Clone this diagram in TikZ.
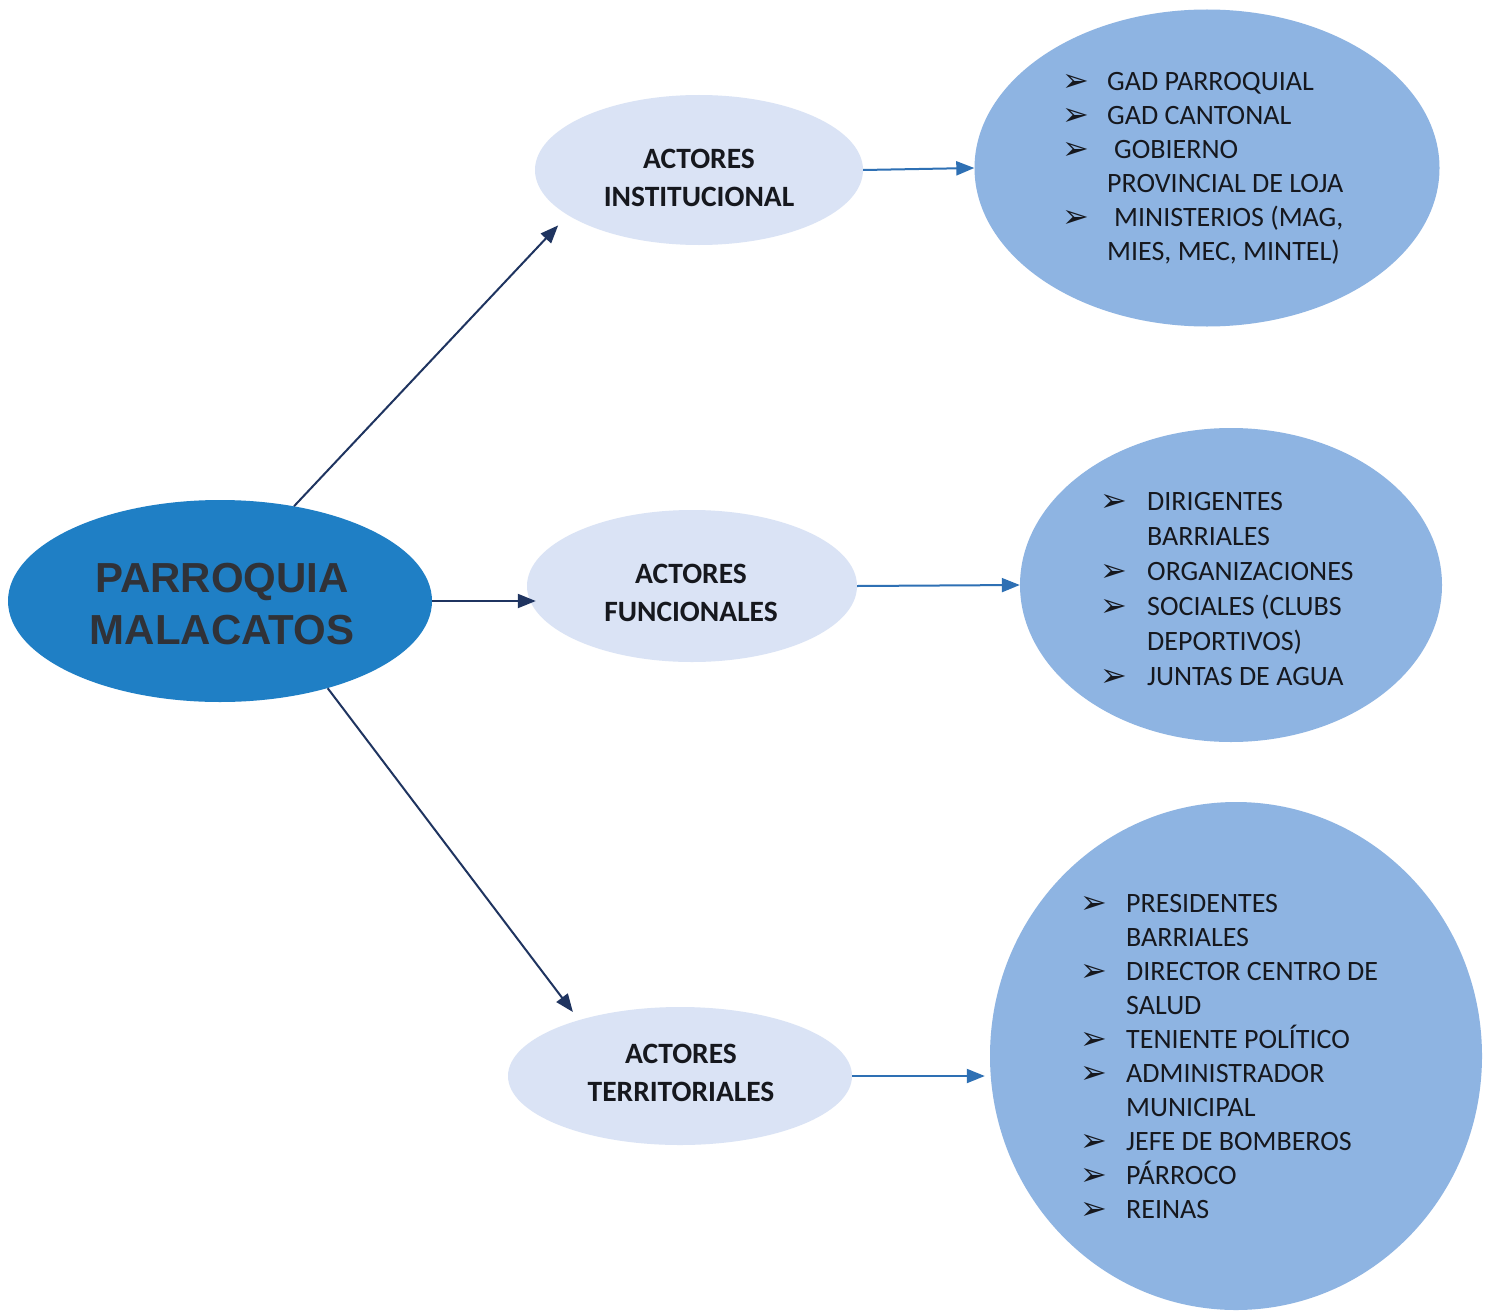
\documentclass[tikz,border=0pt]{standalone}
\usepackage{fontspec}
\setmainfont{Carlito}
\newfontfamily\titlefont{Liberation Sans}
\newfontfamily\bulletfont{DejaVu Sans}
\usetikzlibrary{shapes.geometric,arrows.meta}
\definecolor{centralblue}{RGB}{31,127,197}
\definecolor{paleblue}{RGB}{218,227,245}
\definecolor{listblue}{RGB}{142,180,226}
\definecolor{navyline}{RGB}{31,52,96}
\definecolor{arrowblue}{RGB}{46,112,180}
\definecolor{textdark}{RGB}{22,24,30}
\definecolor{titlegray}{RGB}{48,50,56}
\newcommand{\bul}{{\bulletfont\fontsize{32}{32}\selectfont\raisebox{-1pt}{➢}}}
\tikzset{
  oval/.style={ellipse, inner sep=0pt, draw=none},
  centraloval/.style={oval, fill=centralblue},
  actoroval/.style={oval, fill=paleblue},
  listoval/.style={oval, fill=listblue},
  actortext/.style={align=center, text=textdark, inner sep=0pt,
    font=\fontsize{29.5}{38}\selectfont\bfseries},
  titletext/.style={align=center, text=titlegray, inner sep=0pt,
    font=\titlefont\fontsize{42}{52}\selectfont\bfseries},
  listtext/.style={anchor=base west, inner sep=0pt, text=textdark},
  navyarrow/.style={draw=navyline, line width=2pt,
    -{Triangle[length=18pt,width=14pt]}},
  bluearrow/.style={draw=arrowblue, line width=2pt,
    -{Triangle[length=18pt,width=14pt]}}
}
\begin{document}
\begin{tikzpicture}[x=1pt,y=-1pt]
\fill[white] (0,0) rectangle (1493,1311);
\useasboundingbox (0,0) rectangle (1493,1311);

% central
\node[centraloval, minimum width=424pt, minimum height=202pt] (par) at (220,601) {};
\node[titletext] (partext) at (222,604) {PARROQUIA\\MALACATOS};

% actors
\node[actoroval, minimum width=328pt, minimum height=150pt] (inst) at (699,170) {};
\node[actortext] (insttext) at (699,177.5) {ACTORES\\INSTITUCIONAL};
\node[actoroval, minimum width=330pt, minimum height=152pt] (func) at (692,586) {};
\node[actortext] (functext) at (691,592.5) {ACTORES\\FUNCIONALES};
\node[actoroval, minimum width=344pt, minimum height=138pt] (terr) at (680,1076) {};
\node[actortext] (terrtext) at (681,1073) {ACTORES\\TERRITORIALES};

% list ovals
\node[listoval, minimum width=465pt, minimum height=317pt] (rt1) at (1207,168) {};
\node[listoval, minimum width=422pt, minimum height=314pt] (rt2) at (1231,585) {};
\node[listoval, minimum width=492pt, minimum height=508pt] (rt3) at (1236,1056) {};

% lists
\node[listtext] (list1) at (1062,91) {\fontsize{28}{34}\selectfont
\begin{tabular}[t]{@{}p{45pt}@{}l@{}}
\bul & GAD PARROQUIAL\\
\bul & GAD CANTONAL\\
\bul & \hspace{7pt}GOBIERNO\\
     & PROVINCIAL DE LOJA\\
\bul & \hspace{7pt}MINISTERIOS (MAG,\\
     & MIES, MEC, MINTEL)
\end{tabular}};

\node[listtext] (list2) at (1100,510) {\fontsize{28}{35}\selectfont
\begin{tabular}[t]{@{}p{47pt}@{}l@{}}
\bul & DIRIGENTES\\
     & BARRIALES\\
\bul & ORGANIZACIONES\\
\bul & SOCIALES (CLUBS\\
     & DEPORTIVOS)\\
\bul & JUNTAS DE AGUA
\end{tabular}};

\node[listtext] (list3) at (1080,912) {\fontsize{28}{34}\selectfont
\begin{tabular}[t]{@{}p{46pt}@{}l@{}}
\bul & PRESIDENTES\\
     & BARRIALES\\
\bul & DIRECTOR CENTRO DE\\
     & SALUD\\
\bul & TENIENTE POLÍTICO\\
\bul & ADMINISTRADOR\\
     & MUNICIPAL\\
\bul & JEFE DE BOMBEROS\\
\bul & PÁRROCO\\
\bul & REINAS
\end{tabular}};

% connectors
\draw[navyarrow, shorten >=14pt] (par.52) -- (inst.199);
\draw[navyarrow, shorten >=-9pt] (par.east) -- (func.west |- par.east);
\draw[navyarrow, shorten >=10pt] (par.321) -- (terr.151);
\draw[bluearrow] (inst.east) -- (rt1.west);
\draw[bluearrow] (func.east) -- (rt2.west);
\draw[bluearrow, shorten >=5pt] (terr.east) -- (terr.east -| rt3.west);
\end{tikzpicture}
\end{document}
